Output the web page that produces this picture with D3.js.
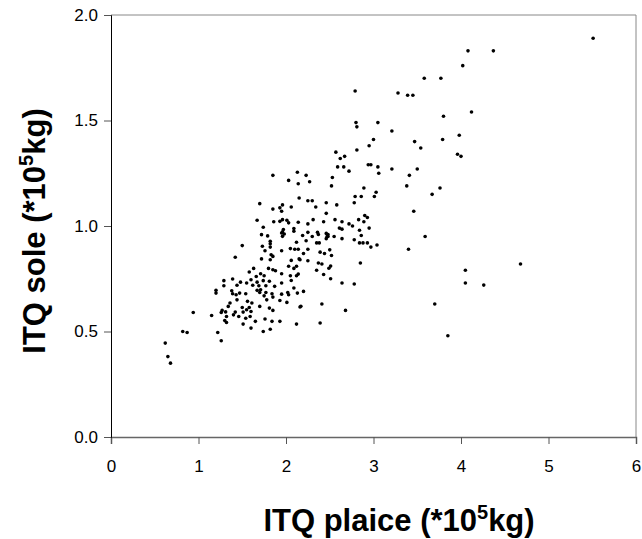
<!DOCTYPE html>
<html>
<head>
<meta charset="utf-8">
<script src="https://cdn.jsdelivr.net/npm/d3@7"></script>
<style>
  html, body { margin: 0; padding: 0; background: #fff; }
  svg { display: block; font-family: "Liberation Sans", Arial, sans-serif; }
</style>
</head>
<body>
<svg width="642" height="539"></svg>
<script>
const width = 642;
const height = 539;
const margin = { top: 15, right: 6, bottom: 102, left: 111 };

// ITQ plaice (x) and ITQ sole (y), *10^5 kg
const plaice = [
  4.08, 4.37, 4.02, 3.58, 3.77, 3.39, 3.45, 4.12, 3.80, 3.47, 3.54, 3.79, 3.98, 3.96, 4.00,
  3.50, 3.41, 3.38, 3.76, 3.67, 3.46, 3.59, 3.40, 4.68, 4.05, 4.05, 4.26, 3.70, 3.85,
  5.51,
  2.79, 3.28, 2.80, 2.81, 3.05, 3.21, 3.00, 2.95, 2.81, 2.57, 2.62, 2.67, 2.59, 2.66, 2.72,
  2.94, 2.97, 3.05, 3.06, 3.21, 2.23, 2.27, 2.53, 2.52, 2.89, 3.03, 2.79, 2.86, 3.01,
  2.25, 2.30, 2.34, 2.46, 2.58, 2.78, 2.46, 2.25, 2.31, 2.43, 2.56, 2.64, 2.72, 2.76, 2.83,
  2.90, 2.93, 2.89, 2.61, 2.64, 2.84, 2.95, 2.19, 2.25, 2.30, 2.36, 2.37, 2.46, 2.48, 2.47,
  2.46, 2.48, 2.55, 2.64, 2.86, 2.23, 2.35, 2.38, 2.78, 2.84, 2.88, 2.93, 3.04, 2.97, 2.25,
  2.20, 2.39, 2.44, 2.50, 2.52, 2.16, 2.25, 2.37, 2.41, 2.51, 2.49, 2.35, 2.85, 2.43, 2.51,
  2.64, 2.78, 2.20, 2.17, 2.41, 2.68, 2.39,
  1.85, 2.13, 2.03, 2.14, 2.15, 1.70, 1.96, 1.93, 1.85, 1.95, 2.06, 1.67, 1.86, 1.93, 1.96,
  2.01, 2.03, 2.14, 1.74, 1.97, 1.96, 1.95, 2.09, 2.09, 1.72, 1.79, 1.98, 1.96, 1.82, 1.82,
  2.12, 1.50, 1.73, 1.82, 1.76, 1.95, 2.05, 2.10, 2.14, 1.83, 1.85, 1.42, 1.72, 1.82, 2.15,
  2.06, 1.63, 1.80, 1.85, 2.03, 2.09, 2.12,
  1.58, 1.71, 1.75, 1.66, 1.88, 1.95, 2.05, 2.12, 2.14, 1.29, 1.39, 1.48, 1.55, 1.60, 1.67,
  1.74, 1.81, 1.95, 2.06, 1.29, 1.44, 1.62, 1.69, 1.77, 1.87, 2.09, 1.38, 1.39, 1.43, 1.47,
  1.54, 1.67, 1.70, 1.71, 1.77, 1.75, 1.84, 1.95, 2.02, 2.03, 2.13, 1.44, 1.56, 1.61, 1.78,
  1.85, 1.93, 2.01, 1.36, 1.34, 1.50, 1.58, 1.70, 1.81, 1.85, 2.16, 1.27, 1.31, 1.42, 1.40,
  1.51, 1.55, 1.60, 1.26, 1.32, 1.46, 1.54, 1.59, 1.30, 1.32, 1.65, 1.84, 1.93, 1.76, 1.51,
  1.60, 1.74, 1.82, 2.12, 1.26,
  1.20, 1.20, 0.94, 1.15, 0.82, 0.87, 1.22, 0.62, 0.65, 0.68
];
const sole = [
  1.83, 1.83, 1.76, 1.70, 1.70, 1.62, 1.62, 1.54, 1.52, 1.40, 1.37, 1.41, 1.43, 1.34, 1.33,
  1.27, 1.24, 1.19, 1.18, 1.15, 1.07, 0.95, 0.89, 0.82, 0.79, 0.73, 0.72, 0.63, 0.48,
  1.89,
  1.64, 1.63, 1.49, 1.47, 1.49, 1.45, 1.41, 1.38, 1.36, 1.35, 1.32, 1.33, 1.28, 1.28, 1.26,
  1.29, 1.29, 1.28, 1.25, 1.27, 1.24, 1.21, 1.23, 1.19, 1.18, 1.16, 1.14, 1.14, 1.14,
  1.12, 1.12, 1.09, 1.11, 1.10, 1.11, 1.06, 1.01, 1.03, 1.02, 1.03, 1.02, 1.01, 1.00, 1.03,
  1.05, 1.04, 1.02, 0.99, 0.985, 0.98, 0.99, 0.955, 0.97, 0.95, 0.97, 0.96, 0.965, 0.96, 0.95,
  0.94, 0.95, 0.95, 0.94, 0.955, 0.93, 0.92, 0.92, 0.935, 0.92, 0.92, 0.92, 0.91, 0.90, 0.89,
  0.87, 0.876, 0.87, 0.887, 0.86, 0.84, 0.835, 0.825, 0.82, 0.81, 0.80, 0.79, 0.825, 0.77, 0.75,
  0.73, 0.725, 0.69, 0.62, 0.63, 0.60, 0.54,
  1.24, 1.255, 1.216, 1.20, 1.133, 1.106, 1.10, 1.086, 1.08, 1.07, 1.09, 1.027, 1.02, 1.022, 1.03,
  1.027, 1.015, 1.018, 0.994, 0.983, 0.972, 0.967, 0.988, 0.975, 0.959, 0.953, 0.962, 0.951, 0.928, 0.916,
  0.923, 0.907, 0.904, 0.90, 0.883, 0.883, 0.893, 0.89, 0.89, 0.864, 0.856, 0.852, 0.844, 0.84, 0.844,
  0.837, 0.799, 0.799, 0.793, 0.809, 0.799, 0.809,
  0.782, 0.774, 0.764, 0.761, 0.788, 0.774, 0.764, 0.764, 0.772, 0.741, 0.749, 0.734, 0.730, 0.745, 0.734,
  0.741, 0.738, 0.730, 0.742, 0.717, 0.719, 0.719, 0.717, 0.717, 0.714, 0.706, 0.693, 0.679, 0.674, 0.682,
  0.679, 0.695, 0.685, 0.698, 0.685, 0.669, 0.679, 0.677, 0.685, 0.674, 0.682, 0.650, 0.643, 0.635, 0.650,
  0.663, 0.647, 0.638, 0.635, 0.619, 0.614, 0.614, 0.619, 0.611, 0.600, 0.616, 0.600, 0.593, 0.592, 0.579,
  0.592, 0.603, 0.595, 0.590, 0.571, 0.571, 0.563, 0.571, 0.552, 0.543, 0.548, 0.548, 0.548, 0.559, 0.535,
  0.516, 0.500, 0.511, 0.535, 0.456,
  0.695, 0.682, 0.590, 0.576, 0.500, 0.495, 0.495, 0.445, 0.381, 0.350
];

const xTicks = [0, 1, 2, 3, 4, 5, 6];
const yTicks = [0.0, 0.5, 1.0, 1.5, 2.0];

let svg = d3.select("svg");

const x = d3.scaleLinear().domain([0, 6]).range([margin.left, width - margin.right]);
const y = d3.scaleLinear().domain([0, 2]).range([height - margin.bottom, margin.top]);

const plotBottom = height - margin.bottom;
const plotRight = width - margin.right;

// frame: top and right in grey
svg.append("path")
  .attr("d", d3.line()([[margin.left, margin.top], [plotRight, margin.top], [plotRight, plotBottom]]))
  .attr("fill", "none")
  .attr("stroke", "#888")
  .attr("stroke-width", 1);

// x axis
const xAxis = svg.append("g")
  .attr("transform", `translate(0,${plotBottom})`)
  .call(d3.axisBottom(x).tickValues(xTicks).tickFormat(d3.format("d")).tickSizeOuter(0).tickSize(7).tickPadding(16));
xAxis.select(".domain").attr("stroke", "#666").attr("stroke-width", 1.5);
xAxis.selectAll(".tick line").attr("stroke", "#555");
xAxis.selectAll(".tick text").attr("font-size", 17).attr("fill", "#000")
  .attr("font-family", "Liberation Sans, Arial, sans-serif");

// y axis
const yAxis = svg.append("g")
  .attr("transform", `translate(${margin.left},0)`)
  .call(d3.axisLeft(y).tickValues(yTicks).tickFormat(d3.format(".1f")).tickSizeOuter(0).tickSize(7).tickPadding(6));
yAxis.select(".domain").attr("stroke", "#000").attr("stroke-width", 1);
yAxis.selectAll(".tick line").attr("stroke", "#555");
yAxis.selectAll(".tick text").attr("font-size", 17).attr("fill", "#000")
  .attr("font-family", "Liberation Sans, Arial, sans-serif");

// points
svg.append("g")
  .selectAll("circle")
  .data(plaice.map((d, i) => [d, sole[i]]))
  .join("circle")
  .attr("cx", d => x(d[0]))
  .attr("cy", d => y(d[1]))
  .attr("r", 1.8)
  .attr("fill", "#000");

// axis titles
function AxisTitle(g, label) {
  const t = g.append("text")
    .attr("text-anchor", "middle")
    .attr("font-size", 31)
    .attr("font-weight", "bold")
    .attr("fill", "#000");
  t.append("tspan").text(label + " (*10");
  t.append("tspan").attr("font-size", 20).attr("dy", -12).text("5");
  t.append("tspan").attr("dy", 12).text("kg)");
  return t;
}

AxisTitle(svg.append("g").attr("transform", "translate(399,531)"), "ITQ plaice");
AxisTitle(svg.append("g").attr("transform", "translate(45,231) rotate(-90)"), "ITQ sole");
</script>
</body>
</html>
